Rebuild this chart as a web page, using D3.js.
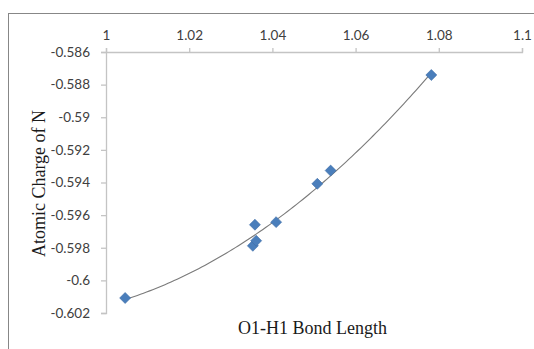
<!DOCTYPE html>
<html><head><meta charset="utf-8">
<script src="https://cdn.jsdelivr.net/npm/d3@7"></script>
<style>html,body{margin:0;padding:0;background:#fff;}svg{display:block;}</style>
</head><body>
<svg id="c" width="534" height="349"></svg>
<script>
const bondLength = [1.0046, 1.0358, 1.0353, 1.0361, 1.0409, 1.0508, 1.0540, 1.0782];
const atomicCharge = [-0.60108, -0.59659, -0.59788, -0.59757, -0.59643, -0.59408, -0.59327, -0.58741];
const xTicks = [1, 1.02, 1.04, 1.06, 1.08, 1.1];
const yTicks = [-0.586, -0.588, -0.59, -0.592, -0.594, -0.596, -0.598, -0.6, -0.602];
const xTitle = "O1-H1 Bond Length";
const yTitle = "Atomic Charge of N";

const svg = d3.select("#c");
const pLeft = 106, pRight = 522, pTop = 52, pBottom = 313;
const x = d3.scaleLinear().domain([1, 1.1]).range([pLeft, pRight]);
const y = d3.scaleLinear().domain([-0.586, -0.602]).range([pTop, pBottom]);

// outer border
svg.append("rect").attr("x", 8.5).attr("y", 13.5).attr("width", 540).attr("height", 360)
  .attr("fill", "none").attr("stroke", "#878787").attr("stroke-width", 1);

const tickFont = "Lato, 'Liberation Sans', sans-serif";
const axisColor = "#c4c4c4";

const xAxis = svg.append("g").attr("transform", `translate(0,${pTop})`)
  .call(d3.axisTop(x).tickValues(xTicks).tickSize(4).tickPadding(10)
    .tickFormat(d => String(+d.toFixed(2))));
const yAxis = svg.append("g").attr("transform", `translate(${pLeft},0)`)
  .call(d3.axisLeft(y).tickValues(yTicks).tickSize(5).tickPadding(11)
    .tickFormat(d => String(+d.toFixed(3))));
[xAxis, yAxis].forEach(g => {
  g.select(".domain").attr("stroke", axisColor).attr("stroke-width", 1.3);
  g.selectAll(".tick line").attr("stroke", axisColor).attr("stroke-width", 1.3);
  g.selectAll(".tick text").attr("fill", "#404040").style("font-family", tickFont).style("font-size", "13.5px");
});
xAxis.selectAll(".tick text").attr("dy", "0.15em");

// quadratic least-squares trendline from data
const n = bondLength.length;
let S = [0,0,0,0,0], T = [0,0,0];
for (let i = 0; i < n; i++) {
  const u = bondLength[i] - 1.04, v = atomicCharge[i];
  for (let k = 0; k < 5; k++) S[k] += Math.pow(u, k);
  for (let k = 0; k < 3; k++) T[k] += v * Math.pow(u, k);
}
const M = [[S[0],S[1],S[2],T[0]],[S[1],S[2],S[3],T[1]],[S[2],S[3],S[4],T[2]]];
for (let i = 0; i < 3; i++) {
  for (let j = i + 1; j < 3; j++) {
    const f = M[j][i] / M[i][i];
    for (let k = i; k < 4; k++) M[j][k] -= f * M[i][k];
  }
}
const coef = [0,0,0];
for (let i = 2; i >= 0; i--) {
  let s = M[i][3];
  for (let k = i + 1; k < 3; k++) s -= M[i][k] * coef[k];
  coef[i] = s / M[i][i];
}
const xmin = d3.min(bondLength), xmax = d3.max(bondLength);
const fitPts = d3.range(0, 101).map(i => {
  const xv = xmin + (xmax - xmin) * i / 100, u = xv - 1.04;
  return [xv, coef[0] + coef[1] * u + coef[2] * u * u];
});
svg.append("path").datum(fitPts)
  .attr("d", d3.line().x(d => x(d[0])).y(d => y(d[1])))
  .attr("fill", "none").attr("stroke", "#7a7a7a").attr("stroke-width", 1.1);

// markers
svg.append("g").selectAll("path").data(bondLength.map((b, i) => [b, atomicCharge[i]]))
  .join("path")
  .attr("d", d3.symbol().type(d3.symbolSquare).size(60))
  .attr("transform", d => `translate(${x(d[0])},${y(d[1])}) rotate(45)`)
  .attr("fill", "#4a7ebb").attr("stroke", "#3d6da8").attr("stroke-width", 0.6);

// axis titles
const titleFont = "'Liberation Serif', 'Times New Roman', serif";
svg.append("text").attr("x", 312.5).attr("y", 334)
  .attr("text-anchor", "middle").style("font-family", titleFont).style("font-size", "18px")
  .attr("fill", "#1a1a1a").text(xTitle);
svg.append("text").attr("transform", `translate(45,183.5) rotate(-90)`)
  .attr("text-anchor", "middle").style("font-family", titleFont).style("font-size", "18px")
  .attr("fill", "#1a1a1a").text(yTitle);
</script>
</body></html>
